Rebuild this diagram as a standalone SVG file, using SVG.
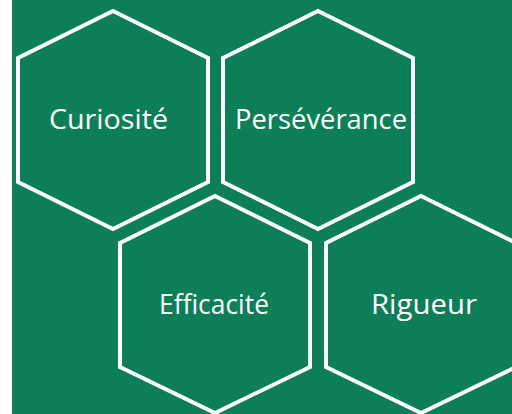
<svg xmlns="http://www.w3.org/2000/svg" width="512" height="414" viewBox="0 0 512 414">
<style>
.hex{fill:none;stroke:#fff;stroke-width:4;stroke-linejoin:miter}
.lbl{fill:#fff;font-family:"Open Sans",Lato,sans-serif;font-size:27.5px;text-anchor:middle}
</style>
<rect x="0" y="0" width="512" height="414" fill="#fff"/>
<rect x="12" y="0" width="500" height="414" fill="#0c7f58"/>
<g id="connectors"></g>
<g id="node-curiosite">
<polygon class="hex" points="113,11 208,58 208,182 113,229 18,182 18,58"/>
<text class="lbl" x="108.5" y="129" textLength="119" lengthAdjust="spacingAndGlyphs">Curiosité</text>
</g>
<g id="node-perseverance">
<polygon class="hex" points="318,11 413,58 413,182 318,229 223,182 223,58"/>
<text class="lbl" x="321" y="129" textLength="172" lengthAdjust="spacingAndGlyphs">Persévérance</text>
</g>
<g id="node-efficacite">
<polygon class="hex" points="215,196 310,243 310,367 215,413 120,367 120,243"/>
<text class="lbl" x="214" y="314" textLength="110" lengthAdjust="spacingAndGlyphs">Efficacité</text>
</g>
<g id="node-rigueur">
<polygon class="hex" points="421,196 516,243 516,367 421,413 326,367 326,243"/>
<text class="lbl" x="424" y="314" textLength="106" lengthAdjust="spacingAndGlyphs">Rigueur</text>
</g>
</svg>
